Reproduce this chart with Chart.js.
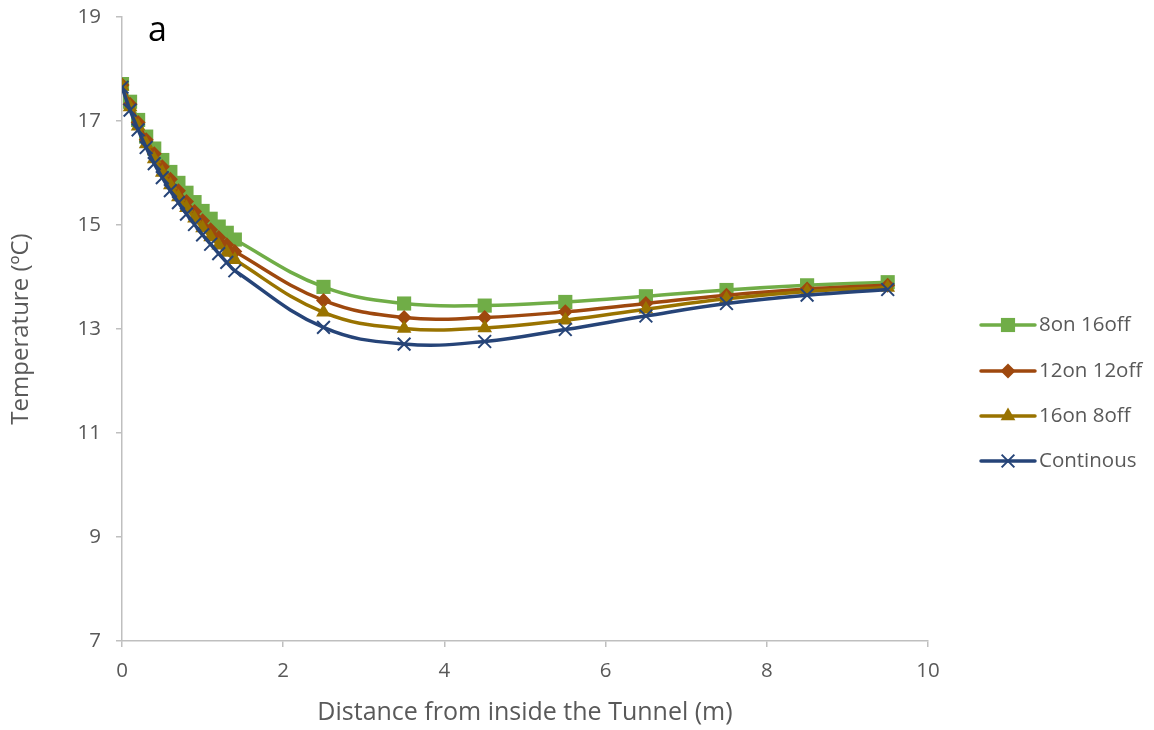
<!DOCTYPE html>
<html>
<head>
<meta charset="utf-8">
<script src="https://cdn.jsdelivr.net/npm/chart.js@4.4.1/dist/chart.umd.min.js"></script>
<style>
  html, body { margin: 0; padding: 0; background: #fff; }
  #wrap { position: relative; width: 1154px; height: 730px; }
</style>
</head>
<body>
<div id="wrap"><canvas id="chart" width="1154" height="730"></canvas></div>
<script>
// distance from inside the tunnel (m)
const distances = [0, 0.1, 0.2, 0.3, 0.4, 0.5, 0.6, 0.7, 0.8, 0.9, 1.0, 1.1, 1.2, 1.3, 1.4,
                   2.5, 3.5, 4.5, 5.5, 6.5, 7.5, 8.5, 9.5]

const seriesNames = ["8on 16off", "12on 12off", "16on 8off", "Continous"]

const temp8on16off = [17.71, 17.37, 17.02, 16.70, 16.47, 16.25, 16.02, 15.81, 15.62, 15.44, 15.27, 15.12, 14.97, 14.85, 14.72,
                      13.81, 13.49, 13.45, 13.52, 13.63, 13.75, 13.84, 13.90]
const temp12on12off = [17.69, 17.32, 16.97, 16.64, 16.37, 16.12, 15.88, 15.66, 15.45, 15.26, 15.08, 14.91, 14.76, 14.62, 14.49,
                       13.55, 13.22, 13.22, 13.33, 13.49, 13.65, 13.77, 13.84]
const temp16on8off = [17.67, 17.27, 16.90, 16.56, 16.27, 16.01, 15.77, 15.54, 15.33, 15.13, 14.94, 14.77, 14.61, 14.47, 14.33,
                      13.32, 13.01, 13.02, 13.17, 13.38, 13.58, 13.72, 13.80]
const tempContinous = [17.65, 17.21, 16.83, 16.49, 16.18, 15.91, 15.66, 15.43, 15.21, 15.01, 14.81, 14.63, 14.45, 14.28, 14.12,
                       13.03, 12.71, 12.76, 12.99, 13.25, 13.49, 13.65, 13.76]

const yTicks = [7, 9, 11, 13, 15, 17, 19]
const xTicks = [0, 2, 4, 6, 8, 10]

const FONT = "'Open Sans'"
const TEXT = "#595959"
const AXIS = "#bfbfbf"

function toPoints(values){
    return values.map((v, i) => ({x: distances[i], y: v}))
}

function drawMarker(ctx, style, x, y, r, color){
    ctx.save()
    ctx.fillStyle = color
    ctx.strokeStyle = color
    ctx.beginPath()
    if (style === "rect") {
        let s = r * Math.SQRT1_2
        ctx.rect(x - s, y - s, 2 * s, 2 * s)
        ctx.fill()
    } else if (style === "rectRot") {
        ctx.moveTo(x, y - r); ctx.lineTo(x + r, y); ctx.lineTo(x, y + r); ctx.lineTo(x - r, y)
        ctx.closePath(); ctx.fill()
    } else if (style === "triangle") {
        ctx.moveTo(x, y - r)
        ctx.lineTo(x + r * 0.866, y + r * 0.5)
        ctx.lineTo(x - r * 0.866, y + r * 0.5)
        ctx.closePath(); ctx.fill()
    } else {
        let s = r * Math.SQRT1_2
        ctx.lineWidth = 2
        ctx.moveTo(x - s, y - s); ctx.lineTo(x + s, y + s)
        ctx.moveTo(x + s, y - s); ctx.lineTo(x - s, y + s)
        ctx.stroke()
    }
    ctx.restore()
}

// legend on the right plus the panel letter
const extras = {
    id: "extras",
    afterDraw(chart){
        const ctx = chart.ctx
        const rows = [325, 371, 416, 461]
        chart.data.datasets.slice().sort((a, b) => b.order - a.order).forEach((ds, i) => {
            let y = rows[i]
            ctx.save()
            ctx.strokeStyle = ds.borderColor
            ctx.lineWidth = 3.5
            ctx.lineCap = "round"
            ctx.beginPath()
            ctx.moveTo(981, y); ctx.lineTo(1035, y)
            ctx.stroke()
            ctx.restore()
            drawMarker(ctx, ds.pointStyle, 1008, y, ds.pointRadius, ds.pointBackgroundColor)
            ctx.save()
            ctx.fillStyle = TEXT
            ctx.font = "20.5px " + FONT
            ctx.textBaseline = "middle"
            ctx.fillText(ds.label, 1039, y)
            ctx.restore()
        })
        ctx.save()
        ctx.fillStyle = "#000"
        ctx.font = "34px " + FONT
        ctx.textBaseline = "middle"
        ctx.fillText("a", 148, 31)
        ctx.restore()
    }
}

const datasets = [
    {label: seriesNames[0], data: toPoints(temp8on16off), borderColor: "#70ad47", pointBackgroundColor: "#70ad47",
     pointBorderColor: "#70ad47", pointStyle: "rect", pointRadius: 10, order: 4},
    {label: seriesNames[1], data: toPoints(temp12on12off), borderColor: "#9e480e", pointBackgroundColor: "#9e480e",
     pointBorderColor: "#9e480e", pointStyle: "rectRot", pointRadius: 7.5, order: 3},
    {label: seriesNames[2], data: toPoints(temp16on8off), borderColor: "#997300", pointBackgroundColor: "#997300",
     pointBorderColor: "#997300", pointStyle: "triangle", pointRadius: 8.5, order: 2},
    {label: seriesNames[3], data: toPoints(tempContinous), borderColor: "#264478", pointBackgroundColor: "#264478",
     pointBorderColor: "#264478", pointStyle: "crossRot", pointRadius: 9, pointBorderWidth: 2, order: 1}
]
datasets.forEach(ds => {
    ds.borderWidth = 3.5
    ds.tension = 0.4
    ds.fill = false
    if (ds.pointBorderWidth === undefined) ds.pointBorderWidth = 0
})

new Chart(document.getElementById("chart"), {
    type: "line",
    data: {datasets: datasets},
    options: {
        responsive: false,
        animation: false,
        events: [],
        layout: {padding: {left: 0, right: 226, top: 17, bottom: 0}},
        plugins: {legend: {display: false}, tooltip: {enabled: false}},
        scales: {
            x: {
                type: "linear",
                min: xTicks[0], max: xTicks[xTicks.length - 1],
                afterBuildTicks: s => { s.ticks = xTicks.map(v => ({value: v})) },
                afterFit: s => { s.height = 89; s.paddingLeft = 0; s.paddingRight = 0 },
                grid: {drawOnChartArea: false, drawTicks: true, tickLength: 6, color: AXIS, lineWidth: 1.5},
                border: {display: true, color: AXIS, width: 1.5},
                ticks: {color: TEXT, font: {family: FONT, size: 20.5}, padding: 12},
                title: {display: true, text: "Distance from inside the Tunnel (m)", color: TEXT,
                        font: {family: FONT, size: 25}, padding: {top: 0, bottom: 2}}
            },
            y: {
                min: yTicks[0], max: yTicks[yTicks.length - 1],
                afterBuildTicks: s => { s.ticks = yTicks.map(v => ({value: v})) },
                afterFit: s => { s.width = 122; s.paddingTop = 0; s.paddingBottom = 0 },
                grid: {drawOnChartArea: false, drawTicks: true, tickLength: 6, color: AXIS, lineWidth: 1.5},
                border: {display: true, color: AXIS, width: 1.5},
                ticks: {color: TEXT, font: {family: FONT, size: 20.5}, padding: 15},
                title: {display: true, text: "Temperature (ºC)", color: TEXT,
                        font: {family: FONT, size: 24}, padding: {top: 7, bottom: 0}}
            }
        }
    },
    plugins: [extras]
})
</script>
</body>
</html>
